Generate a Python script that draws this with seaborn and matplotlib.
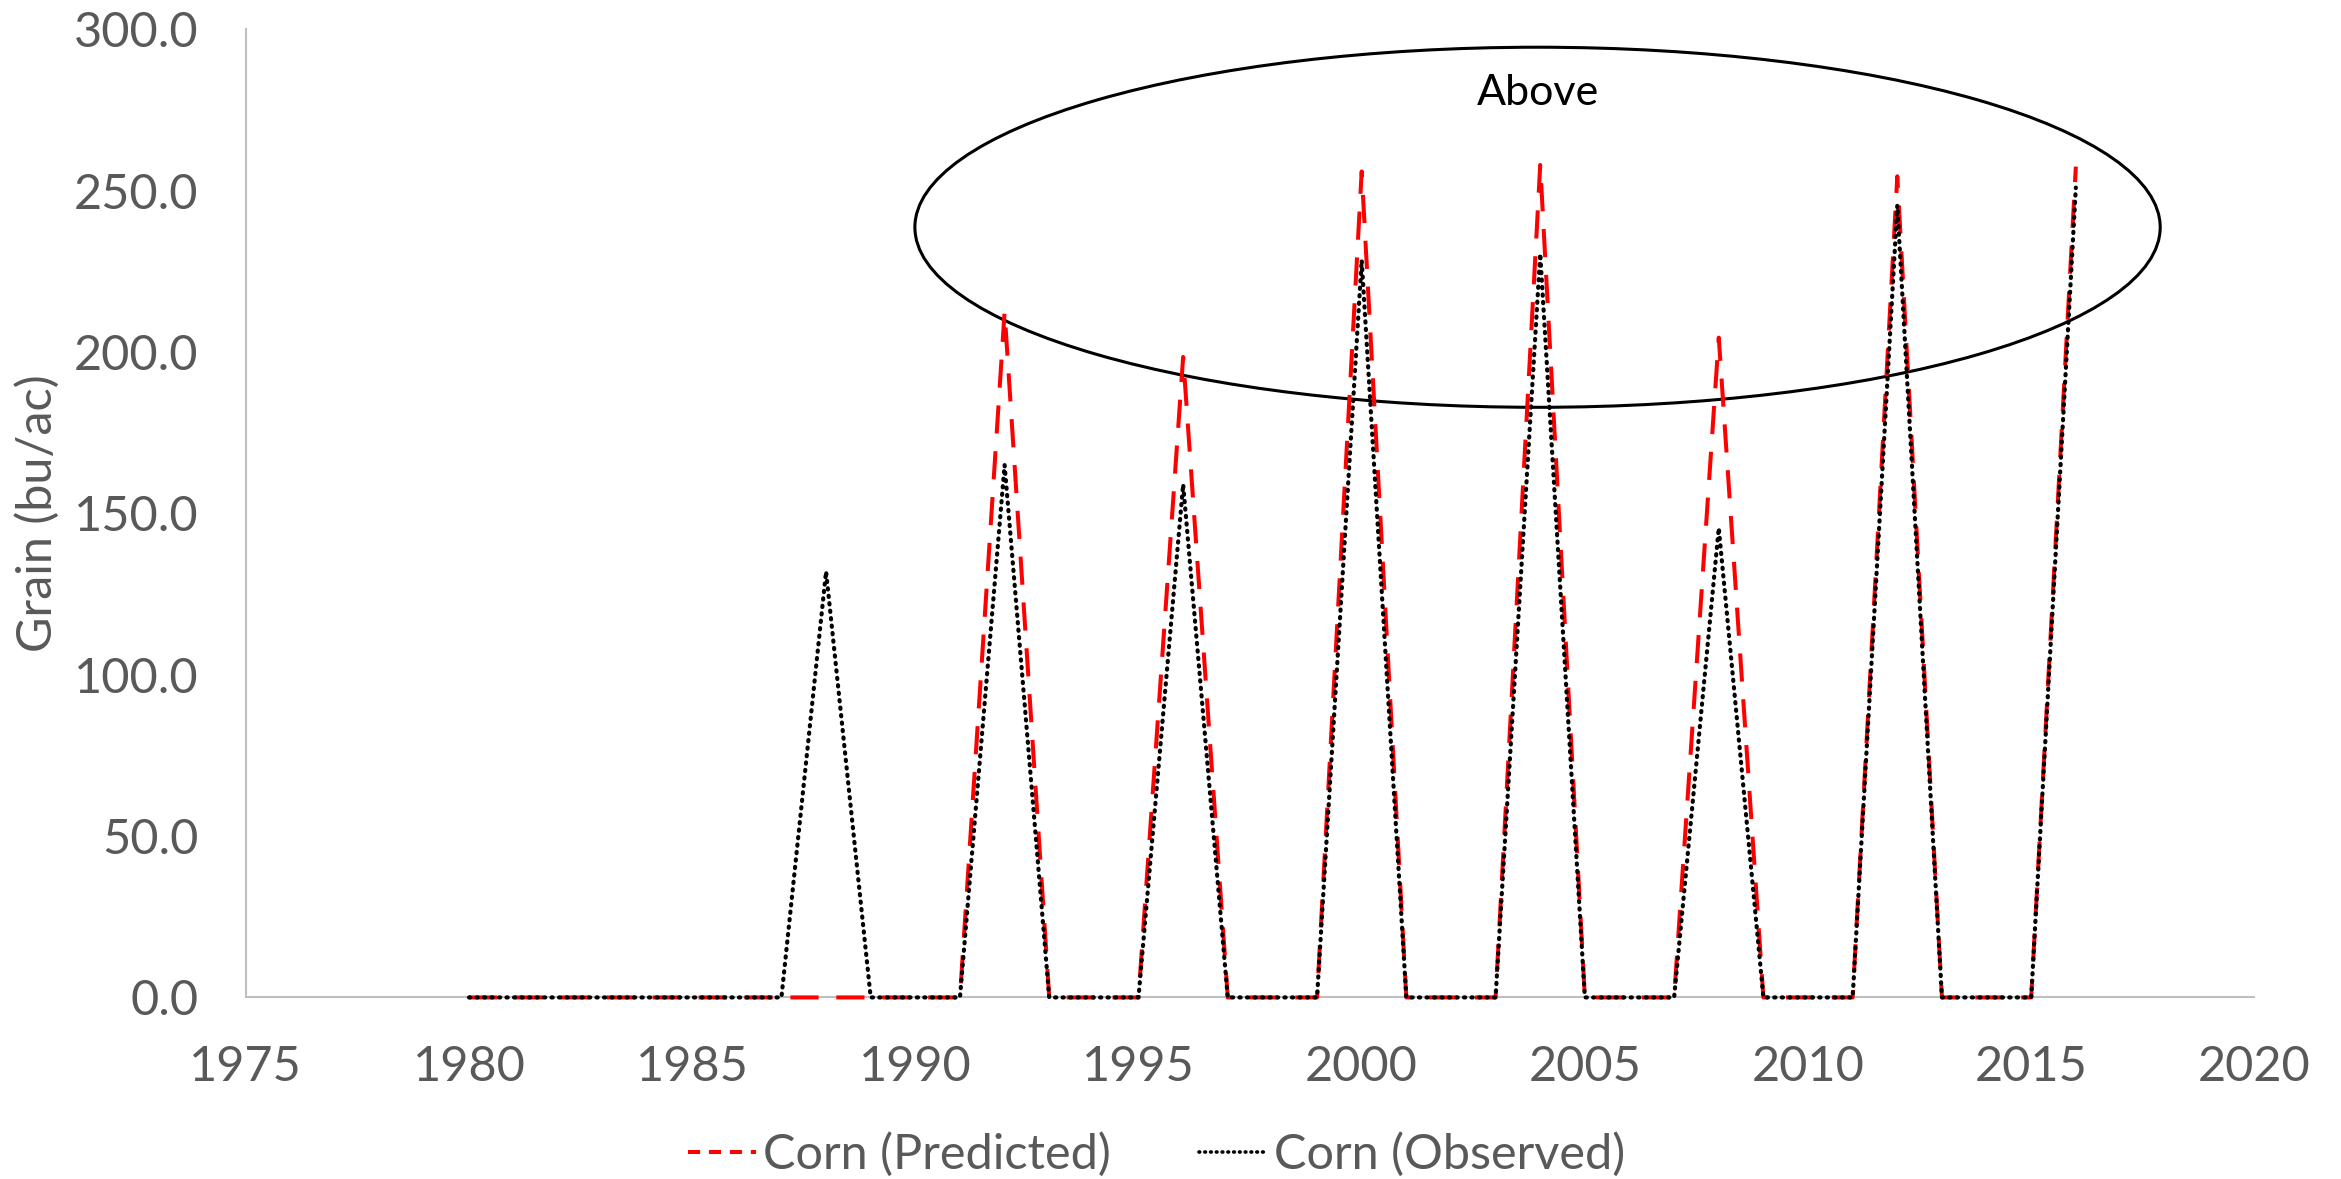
import numpy as np
import pandas as pd
import matplotlib
matplotlib.use("Agg")
import matplotlib.pyplot as plt
from matplotlib.patches import Ellipse
from matplotlib.lines import Line2D
from matplotlib.ticker import FormatStrFormatter
import seaborn as sns

years = list(range(1980, 2017))
peak_years = [1988, 1992, 1996, 2000, 2004, 2008, 2012, 2016]
predicted_peaks = [0.0, 212.5, 198.5, 256.0, 258.0, 204.5, 254.5, 257.5]
observed_peaks = [132.0, 165.0, 159.0, 228.5, 230.5, 145.5, 245.5, 251.0]

predicted = [0.0] * len(years)
observed = [0.0] * len(years)
for y, p, o in zip(peak_years, predicted_peaks, observed_peaks):
    predicted[years.index(y)] = p
    observed[years.index(y)] = o

series_names = ["Corn (Predicted)", "Corn (Observed)"]
x_ticks = [1975, 1980, 1985, 1990, 1995, 2000, 2005, 2010, 2015, 2020]
y_ticks = [0, 50, 100, 150, 200, 250, 300]

df = pd.DataFrame({
    "Year": years * 2,
    "Grain": predicted + observed,
    "Series": [series_names[0]] * len(years) + [series_names[1]] * len(years),
})

sns.set_theme(style="white")
plt.rcParams["font.family"] = ["Lato", "DejaVu Sans"]

fig = plt.figure(figsize=(23.41, 11.79), dpi=100)
ax = fig.add_axes([0.105, 0.154, 0.858, 0.821])

sns.lineplot(data=df, x="Year", y="Grain", hue="Series", style="Series",
             palette={series_names[0]: "#ff0000", series_names[1]: "#000000"},
             dashes={series_names[0]: (7, 4.4), series_names[1]: (0.3, 1.5)},
             ax=ax, legend=False)
lines = ax.get_lines()
lines[0].set_linewidth(2.9)
lines[1].set_linewidth(3.0)
lines[1].set_dash_capstyle("round")
for i, ln in enumerate(lines):
    ln.set_zorder(3 + i)
    ln.set_clip_on(False)

ax.set_xlim(1975, 2020)
ax.set_ylim(0, 300)
ax.set_xticks(x_ticks)
ax.set_yticks(y_ticks)
ax.yaxis.set_major_formatter(FormatStrFormatter("%.1f"))
ax.tick_params(axis="both", labelsize=35, colors="#595959", length=0)
ax.tick_params(axis="x", pad=34)
ax.tick_params(axis="y", pad=34)
ax.set_xlabel("")
ax.set_ylabel("Grain (bu/ac)", fontsize=35, color="#595959", labelpad=10)
for s in ["top", "right"]:
    ax.spines[s].set_visible(False)
for s in ["left", "bottom"]:
    ax.spines[s].set_color("#bfbfbf")
    ax.spines[s].set_linewidth(1.5)
ax.grid(False)

ell = Ellipse((2003.94, 238.7), 27.9, 111.6, fill=False, edgecolor="black", linewidth=2.2)
ax.add_patch(ell)
ax.text(2003.94, 280.2, "Above", fontsize=31, color="black", ha="center", va="center")

handles = [
    Line2D([], [], color="#ff0000", linewidth=2.9, dashes=(3, 2.2)),
    Line2D([], [], color="#000000", linewidth=2.6, dashes=(0.2, 1.4),
           dash_capstyle="round"),
]
fig.legend(handles, series_names, loc="center", bbox_to_anchor=(0.494, 0.021),
           ncol=2, frameon=False, fontsize=35, labelcolor="#595959",
           handlelength=1.4, handletextpad=0.15, columnspacing=1.8)

fig.savefig("out.png", dpi=100)
